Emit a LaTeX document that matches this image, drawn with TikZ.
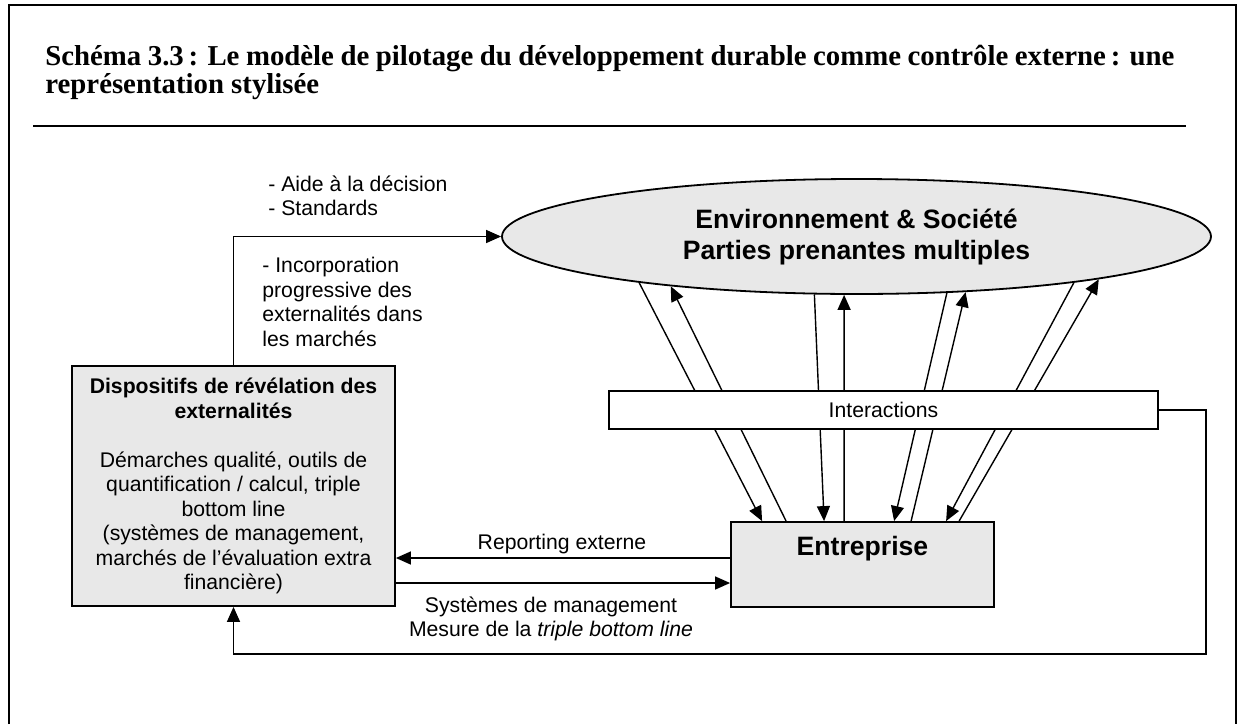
\documentclass[tikz,border=0pt]{standalone}
\usepackage{fontspec}
\setmainfont{Liberation Serif}
\setsansfont{Liberation Sans}
\usetikzlibrary{arrows.meta,shapes.geometric,calc}
\definecolor{boxgray}{RGB}{232,232,232}
\begin{document}
\begin{tikzpicture}[x=0.5pt,y=-0.5pt,
  lbl/.style={font=\sffamily\fontsize{10.6}{12.25}\selectfont, inner sep=0pt},
  conn/.style={line width=0.7pt},
  arr/.style={conn, -{Triangle[length=7.5pt,width=6.5pt]}},
  boxline/.style={draw, line width=0.9pt},
  bigbold/.style={font=\sffamily\bfseries\fontsize{13.3}{15.5}\selectfont},
]
\useasboundingbox (0,0) rectangle (1244,724);
% frame
\draw[line width=1pt] (9,724) -- (9,5) -- (1236,5) -- (1236,724);
% title
\node[anchor=base west, inner sep=0pt, text width=564.5pt, align=justify,
  font=\bfseries\fontsize{14.4}{14}\selectfont] (title) at (45,65)
  {Schéma 3.3\,: Le modèle de pilotage du développement durable comme contrôle externe\,: une\linebreak représentation stylisée};
\draw[line width=0.75pt] (33,126) -- (1186,126);

% main nodes
\node[ellipse, boxline, fill=boxgray, minimum width=354.5pt, minimum height=57.5pt,
  inner sep=0pt, align=center, bigbold] (env) at (856.5,236.5)
  {Environnement \& Société\\Parties prenantes multiples};
\node[rectangle, boxline, fill=boxgray, minimum width=131.5pt, minimum height=42.5pt,
  inner sep=0pt, text height=5pt, text depth=14pt, bigbold] (ent) at (862.5,564.5) {Entreprise};
\node[rectangle, boxline, fill=boxgray, minimum width=161.5pt, minimum height=120pt,
  inner sep=0pt, align=center, lbl] (disp) at (233.5,486)
  {\textbf{Dispositifs de révélation des}\\\textbf{externalités}\\[12.25pt]Démarches qualité, outils de\\quantification / calcul, triple\\bottom line\\(systèmes de management,\\marchés de l’évaluation extra\\financière)};

% labels
\node[lbl, anchor=north west, align=left] (aide) at (268,175) {- Aide à la décision\\- Standards};
\node[lbl, anchor=north west, align=left] (incorp) at (262,257) {- Incorporation\\progressive des\\externalités dans\\les marchés};
\node[lbl] (rep) at (562,544) {Reporting externe};
\node[lbl, anchor=north, align=center] (sys) at (551,596) {Systèmes de management\\Mesure de la \textit{triple bottom line}};

% interaction arrows (under the Interactions box)
\draw[arr] (env.192.9) -- ($(ent.north west)+(32,0)$);
\draw[arr] ($(ent.north west)+(56,0)$) -- (env.195.9);
\draw[arr] (env.234.4) -- ($(ent.north west)+(94,0)$);
\draw[arr] ($(ent.north west)+(114,0)$) -- (env.258.1);
\draw[arr] (env.328.6) -- ($(ent.north west)+(164,0)$);
\draw[arr] ($(ent.north west)+(181,0)$) -- (env.333.5);
\draw[arr] (env.348.3) -- ($(ent.north west)+(216,0)$);
\draw[arr] ($(ent.north west)+(229,0)$) -- (env.350.6);

\node[rectangle, boxline, fill=white, minimum width=274.5pt, minimum height=19pt,
  lbl] (inter) at (883.5,410) {Interactions};

% other connectors
\draw[arr] (disp.north) |- (env.west);
\coordinate (r1) at ($(ent.west)+(0,-6.5)$);
\draw[arr] (r1) -- (r1 -| disp.east);
\coordinate (s1) at ($(disp.east)+(0,97)$);
\draw[arr] (s1) -- (s1 -| ent.west);
\coordinate (fb) at (1206,654);
\draw[arr] (inter.east) -| (fb) -| (disp.south);
\end{tikzpicture}
\end{document}
